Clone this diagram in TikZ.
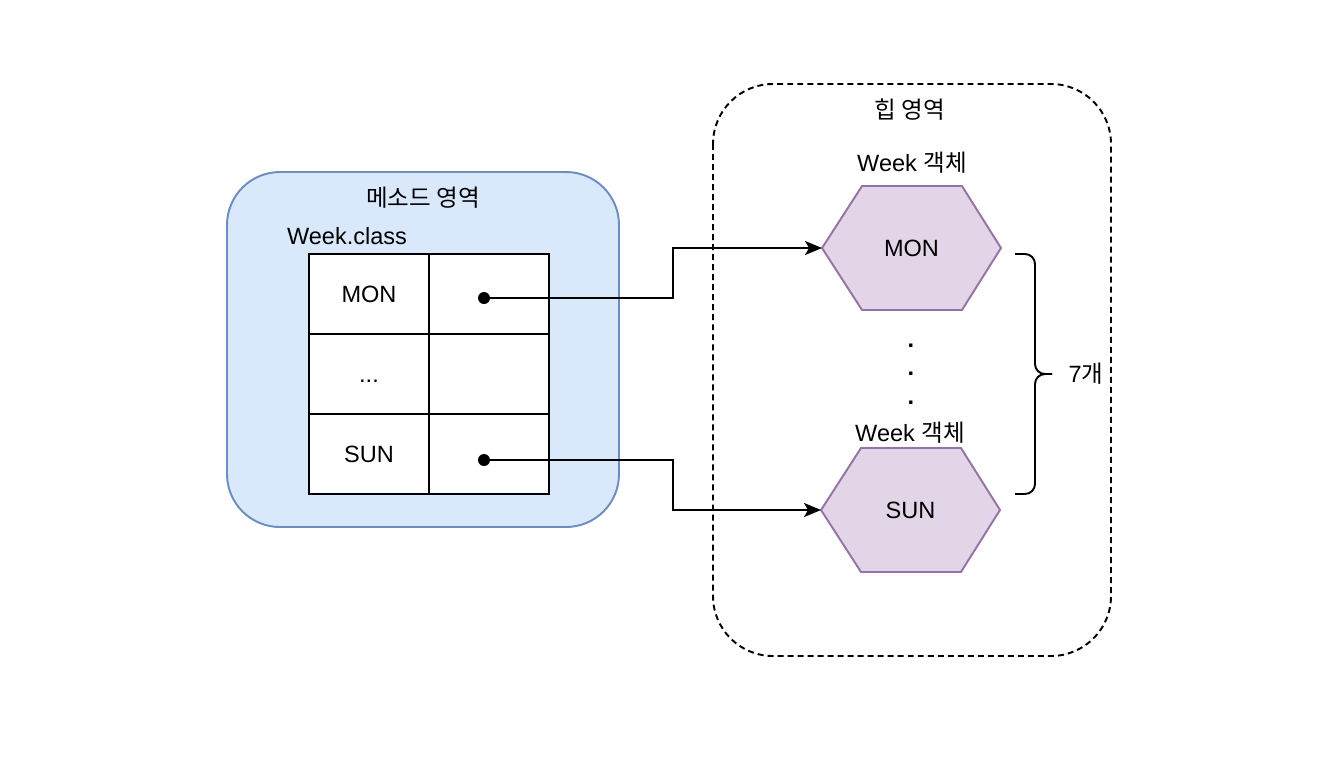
\documentclass[tikz,border=0pt]{standalone}
\usepackage{fontspec}
\setmainfont{Liberation Sans}
\newfontfamily\kr{Noto Sans CJK KR}
\usetikzlibrary{arrows.meta,positioning,calc,backgrounds}
\definecolor{methodfill}{HTML}{DAE8FC}
\definecolor{methodline}{HTML}{6C8EBF}
\definecolor{objfill}{HTML}{E1D5E7}
\definecolor{objline}{HTML}{9673A6}

\begin{document}
\begin{tikzpicture}[x=0.02cm,y=-0.02cm,line width=1.1pt,
  font=\fontsize{13.4}{16}\selectfont,
  cell/.style={draw,fill=white,minimum width=2.4cm,minimum height=1.6cm,inner sep=0,outer sep=0,text height=9.6pt,text depth=0pt},
  obj/.style={minimum width=3.58cm,minimum height=2.48cm,inner sep=0,outer sep=0},
  ref/.style={-{Stealth[length=0.34cm,width=0.28cm,inset=0.08cm]}}]
\useasboundingbox (0,0) rectangle (1322,772);
% method area
\draw [draw=methodline, fill=methodfill, rounded corners=1.06cm] (227,172) rectangle (619,527);
\node (mtitle) at (423,198) {\kr 메소드 영역};
\node (cls) at (347,236) {Week.class};
\node [cell] (mon) at (369,294) {MON};
\node [cell, right=0pt of mon] (monref) {};
\node [cell, below=0pt of mon] (etc) {...};
\node [cell, right=0pt of etc] (etcref) {};
\node [cell, below=0pt of etc] (sun) {SUN};
\node [cell, right=0pt of sun] (sunref) {};
\coordinate (pmon) at (484,298);
\coordinate (psun) at (484,460);
\fill (pmon) circle (0.12cm);
\fill (psun) circle (0.12cm);
% heap area
\draw [dash pattern=on 3.4pt off 2.3pt, rounded corners=1.2cm] (713,84) rectangle (1111,656);
\node (htitle) at (910,110) {\kr 힙 영역};
\node (lmon) at (912,163) {Week {\kr 객체}};
\node [obj] (hmon) at (911.5,248) {MON};
\node [align=center, font=\fontsize{13.4}{16.2}\selectfont\bfseries] (more) at (911,374) {.\\.\\.};
\node (lsun) at (910,433) {Week {\kr 객체}};
\node [obj] (hsun) at (910.5,510) {SUN};
\begin{scope}[on background layer]
\foreach \h in {hmon,hsun}
  \draw [line width=1.1pt, draw=objline, fill=objfill] (\h.west) -- ($(\h.north west)+(40,0)$) -- ($(\h.north east)+(-39,0)$) -- (\h.east) -- ($(\h.south east)+(-39,0)$) -- ($(\h.south west)+(40,0)$) -- cycle;
\end{scope}
% references
\draw [ref] (pmon) -- (673,298) |- (hmon.west);
\draw [ref] (psun) -- (673,460) |- (hsun.west);
% brace
\coordinate (btop) at (1015,254);
\coordinate (bbot) at (1015,494);
\coordinate (btip) at (1052,374);
\draw [rounded corners=0.2cm] (btop) -- (1035,254) -- (1035,374) -- (btip);
\draw [rounded corners=0.2cm] (btip) -- (1035,374) -- (1035,494) -- (bbot);
\node (count) at (1086,374) {7{\kr 개}};
\end{tikzpicture}
\end{document}
